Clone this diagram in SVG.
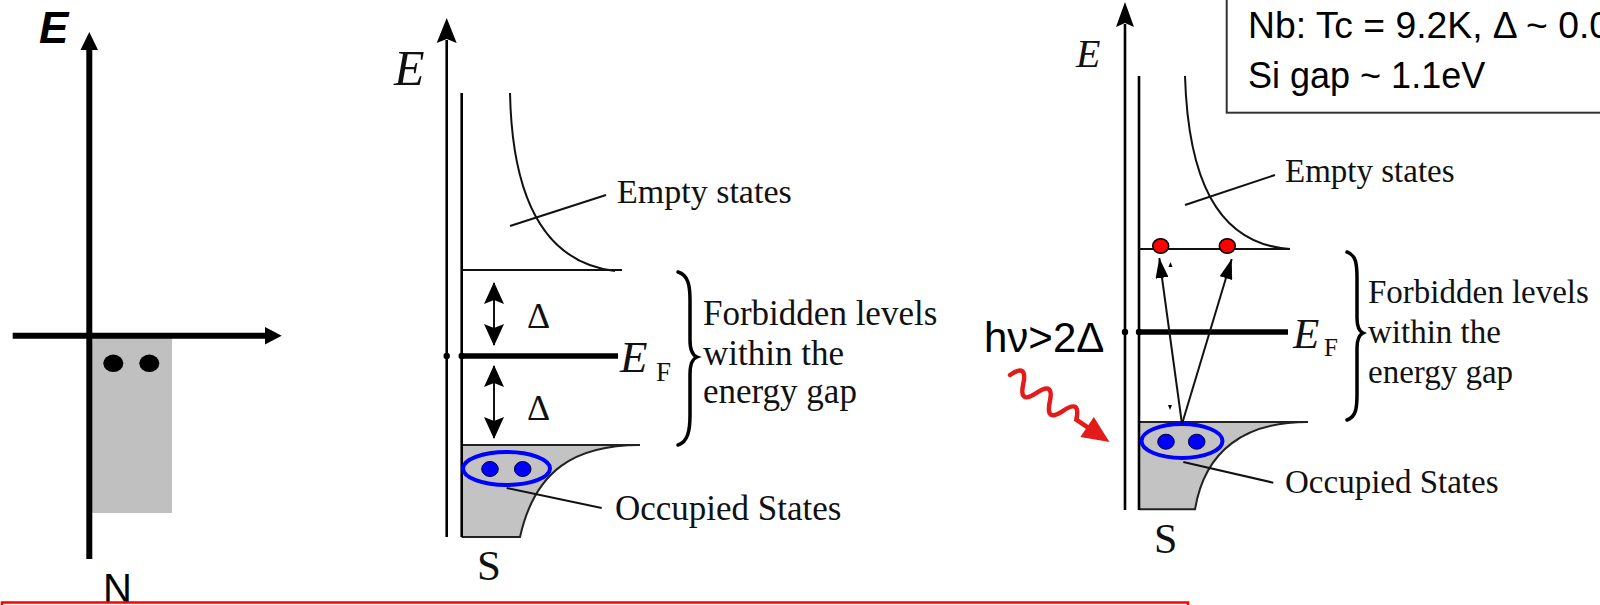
<svg xmlns="http://www.w3.org/2000/svg" width="1600" height="605" viewBox="0 0 1600 605">
<defs>
<style>
.ax{stroke:#000;stroke-width:2.6;fill:none}
.ln{stroke:#111;stroke-width:2;fill:none}
.ef{stroke:#000;stroke-width:5.5}
.gap{fill:#c3c3c3;stroke:none}
.edge{stroke:#222;stroke-width:2;fill:none}
.pair{fill:none;stroke:#0000ff;stroke-width:4}
.bdot{fill:#0000ff;stroke:#000044;stroke-width:1}
.rdot{fill:#ff0000;stroke:#000;stroke-width:1.5}
.serif{font-family:"Liberation Serif","Times New Roman",serif;fill:#111}
.sans{font-family:"Liberation Sans",Arial,sans-serif;fill:#000}
.brace{stroke:#000;stroke-width:3.5;fill:none;stroke-linecap:round}
</style>
<marker id="ah" viewBox="0 0 22 20" refX="21" refY="10" markerWidth="22" markerHeight="20" markerUnits="userSpaceOnUse" orient="auto-start-reverse">
<path d="M0,0 L22,10 L0,20 L4,10 z" fill="#000"/>
</marker>
<marker id="ah2" viewBox="0 0 20 13" refX="20" refY="6.5" markerWidth="20" markerHeight="13" markerUnits="userSpaceOnUse" orient="auto">
<path d="M0,0 L20,6.5 L0,13 z" fill="#000"/>
</marker>
</defs>
<rect width="1600" height="605" fill="#fff"/>

<!-- Left panel: N -->
<g id="panel-N">
<rect x="92" y="338" width="80" height="175" fill="#c0c0c0"/>
<line x1="89.3" y1="48" x2="89.3" y2="559" stroke="#000" stroke-width="6"/>
<polygon points="89.3,32 80.5,50 98,50" fill="#000"/>
<line x1="12.7" y1="335.7" x2="266" y2="335.7" stroke="#000" stroke-width="6"/>
<polygon points="281.7,335.7 265,327 265,344.5" fill="#000"/>
<ellipse cx="113.3" cy="363.3" rx="10" ry="8.7" fill="#000"/>
<ellipse cx="149.3" cy="363.3" rx="10" ry="8.7" fill="#000"/>
<text class="sans" x="39" y="43" font-size="44" font-weight="bold" font-style="italic">E</text>
<text class="sans" x="103" y="602" font-size="40">N</text>
</g>

<!-- Middle panel: S -->
<g id="panel-S1">
<path class="gap" d="M461.7,445 L640,445 C575,445 535,470 520,537 L461.7,537 Z"/>
<path class="edge" d="M461.7,445 L640,445 M640,445 C575,445 535,470 520,537 L461.7,537"/>
<line class="ax" x1="446.7" y1="40" x2="446.7" y2="537"/>
<polygon points="446.7,18 436.7,43 446.7,39 456.7,43" fill="#000"/>
<line class="ax" x1="461.7" y1="93" x2="461.7" y2="537"/>
<path class="ln" d="M510,93 C512,190 540,262 615,271"/>
<line class="ln" x1="461.7" y1="270" x2="622" y2="270"/>
<line class="ef" x1="461.7" y1="356" x2="618" y2="356"/>
<circle cx="446.7" cy="356" r="3.2" fill="#000"/>
<circle cx="461.7" cy="356" r="3.2" fill="#000"/>
<ellipse class="pair" cx="506.5" cy="468.5" rx="43.5" ry="16.5"/>
<ellipse class="bdot" cx="490" cy="469" rx="8.3" ry="7.5"/>
<ellipse class="bdot" cx="522.7" cy="469" rx="8.3" ry="7.5"/>
<path class="brace" d="M678,272 C688,275 690,285 690,300 L690,340 C690,350 692,355 697,357 C692,359 690,364 690,374 L690,415 C690,430 688,442 678,445"/>
<text class="serif" x="394" y="85" font-size="50" font-style="italic">E</text>
<text class="serif" x="617" y="203" font-size="34">Empty states</text>
<text class="serif" x="527" y="328" font-size="36">Δ</text>
<text class="serif" x="527" y="420" font-size="36">Δ</text>
<text class="serif" x="620" y="372" font-size="45" font-style="italic">E</text>
<text class="serif" x="656" y="381" font-size="27">F</text>
<text class="serif" x="703" y="325" font-size="35">Forbidden levels</text>
<text class="serif" x="703" y="365" font-size="35">within the</text>
<text class="serif" x="703" y="403" font-size="35">energy gap</text>
<text class="serif" x="615" y="520" font-size="35">Occupied States</text>
<text class="serif" x="477" y="580" font-size="43">S</text>
</g>

<!-- Right panel: S with photon -->
<g id="panel-S2">
<path class="gap" d="M1139,422 L1308,422 C1245,422 1205,450 1195,509.3 L1139,509.3 Z"/>
<path class="edge" d="M1139,422 L1308,422 M1308,422 C1245,422 1205,450 1195,509.3 L1139,509.3"/>
<line class="ax" x1="1125" y1="24" x2="1125" y2="510"/>
<polygon points="1125,2 1116,27 1125,23 1134,27" fill="#000"/>
<line class="ax" x1="1139" y1="76" x2="1139" y2="510"/>
<path class="ln" d="M1185,76 C1188,175 1215,244 1290,249"/>
<line class="ln" x1="1139" y1="249" x2="1290" y2="249"/>
<line class="ef" x1="1139" y1="332" x2="1288" y2="332"/>
<circle cx="1125" cy="332" r="3.2" fill="#000"/>
<circle cx="1139" cy="332" r="3.2" fill="#000"/>
<ellipse class="pair" cx="1182" cy="441" rx="40.5" ry="17"/>
<ellipse class="bdot" cx="1166" cy="441.7" rx="8.3" ry="7.5"/>
<ellipse class="bdot" cx="1196.7" cy="441.7" rx="8.3" ry="7.5"/>
<ellipse class="rdot" cx="1160.7" cy="246" rx="8" ry="7.3"/>
<ellipse class="rdot" cx="1227.3" cy="246" rx="8" ry="7.3"/>
<polygon points="1170.5,262 1168.5,267 1172.5,267" fill="#000"/>
<polygon points="1168,405 1172,405 1170,410" fill="#000"/>
<path class="brace" d="M1347,252 C1356,255 1357,264 1357,278 L1357,318 C1357,327 1359,331 1363,333 C1359,335 1357,339 1357,348 L1357,394 C1357,408 1356,417 1347,420"/>
<text class="serif" x="1076" y="67" font-size="40" font-style="italic">E</text>
<text class="serif" x="1285" y="182" font-size="33">Empty states</text>
<text class="serif" x="1293" y="348" font-size="43" font-style="italic">E</text>
<text class="serif" x="1324" y="356" font-size="25">F</text>
<text class="serif" x="1368" y="303" font-size="33">Forbidden levels</text>
<text class="serif" x="1368" y="343" font-size="33">within the</text>
<text class="serif" x="1368" y="383" font-size="33">energy gap</text>
<text class="serif" x="1285" y="493" font-size="33">Occupied States</text>
<text class="serif" x="1154" y="553" font-size="42">S</text>
<text class="sans" x="984" y="352" font-size="42">hν&gt;2Δ</text>
<g id="photon" transform="translate(1010,375) rotate(34)">
<path d="M0,0 Q8,-20 16,0 T32,0 T48,0 T64,0 T80,0 L96,0" fill="none" stroke="#e31b1b" stroke-width="4.5" stroke-linecap="round"/>
<polygon points="93,-12 120,0 93,12" fill="#e31b1b"/>
</g>
</g>

<!-- Info box -->
<g id="info-box">
<rect x="1226.7" y="-5" width="400" height="117.7" fill="#fff" stroke="#333" stroke-width="2"/>
<text class="sans" x="1248" y="38" font-size="36" textLength="362" lengthAdjust="spacingAndGlyphs">Nb: Tc = 9.2K, Δ ~ 0.0</text>
<text class="sans" x="1248" y="88" font-size="36">Si gap ~ 1.1eV</text>
</g>

<!-- Connectors: leaders and arrows -->
<g id="connectors">
<line class="ln" x1="510" y1="226" x2="606" y2="195"/>
<line class="ln" x1="506.7" y1="488" x2="601.7" y2="508"/>
<line class="ln" x1="494" y1="283" x2="494" y2="345" marker-start="url(#ah)" marker-end="url(#ah)"/>
<line class="ln" x1="494" y1="366" x2="494" y2="438" marker-start="url(#ah)" marker-end="url(#ah)"/>
<line class="ln" x1="1185" y1="205" x2="1275" y2="175"/>
<line class="ln" x1="1183.3" y1="462" x2="1273.3" y2="482.7"/>
<line class="ln" x1="1182" y1="424" x2="1159.3" y2="258" marker-end="url(#ah2)"/>
<line class="ln" x1="1182" y1="424" x2="1231.7" y2="259" marker-end="url(#ah2)"/>
</g>

<!-- Red frame -->
<rect id="red-frame" x="2" y="602.5" width="1186" height="30" fill="none" stroke="#ff0000" stroke-width="2.5"/>
</svg>
